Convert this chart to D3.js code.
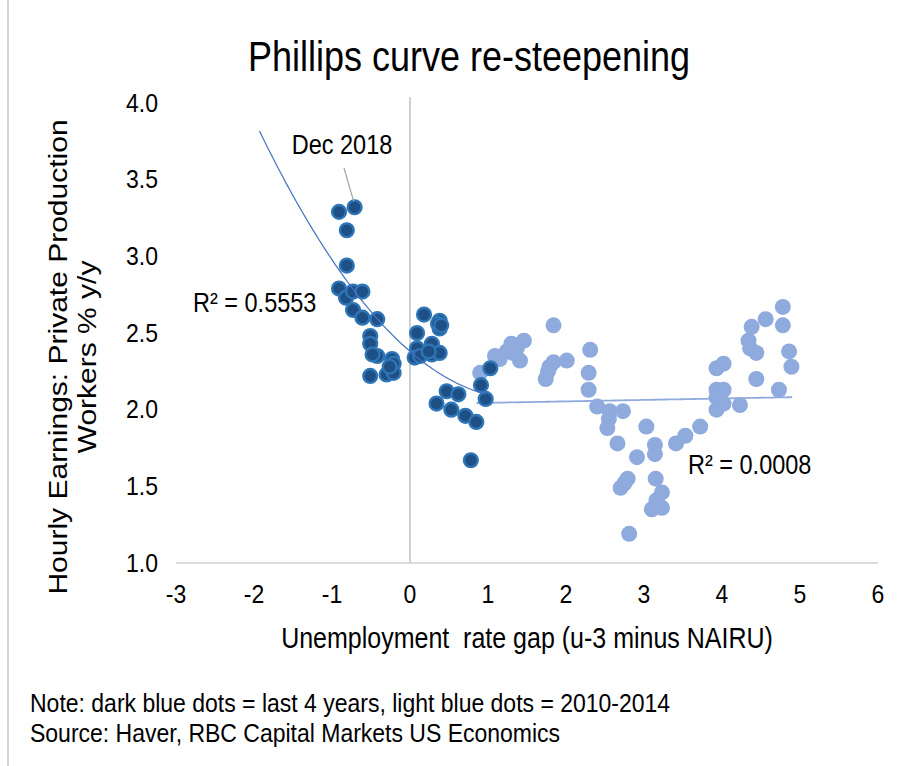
<!DOCTYPE html>
<html>
<head>
<meta charset="utf-8">
<script src="https://cdn.jsdelivr.net/npm/d3@7"></script>
<style>
  html, body { margin: 0; padding: 0; background: #ffffff; }
  svg text { font-family: "Liberation Sans", Arial, sans-serif; fill: #000; }
</style>
</head>
<body>
<script>
// Last 4 years (dark blue): unemployment gap vs hourly earnings growth
const darkX = [-0.91,-0.71,-0.81,-0.81,-0.91,-0.82,-0.73,-0.61,-0.73,-0.61,-0.42,-0.51,-0.51,-0.42,-0.23,-0.21,-0.51,-0.30,-0.21,-0.26,-0.48,
               0.18,0.09,0.09,0.06,0.38,0.38,0.28,0.28,0.38,0.13,0.36,0.40,0.24,
               0.47,0.62,0.34,0.53,0.71,0.85,0.78,0.91,0.97,1.03];
const darkY = [3.29,3.32,3.17,2.94,2.79,2.73,2.77,2.77,2.65,2.60,2.59,2.48,2.43,2.35,2.33,2.30,2.22,2.23,2.24,2.28,2.36,
               2.62,2.50,2.40,2.34,2.58,2.53,2.43,2.36,2.37,2.35,2.56,2.55,2.38,
               2.12,2.10,2.04,2.00,1.96,1.92,1.67,2.16,2.07,2.27];

// 2010-2014 (light blue)
const lightX = [0.90,1.09,1.15,1.24,1.30,1.46,1.32,1.41,1.37,1.84,1.84,1.77,1.74,1.79,2.01,2.31,2.29,2.29,2.40,2.56,
                2.73,2.55,2.53,2.66,3.03,3.14,3.14,2.91,2.79,2.70,2.75,3.15,3.23,3.10,3.23,3.16,2.81,3.41,3.53,3.72,
                3.93,4.02,3.93,3.93,4.02,3.93,4.02,3.98,4.23,4.44,4.38,4.34,4.36,4.44,4.56,4.78,4.78,4.86,4.89,4.73];
const lightY = [2.24,2.35,2.33,2.38,2.43,2.45,2.37,2.32,2.40,2.55,2.31,2.25,2.20,2.28,2.32,2.39,2.24,2.13,2.02,1.99,
                1.99,1.94,1.88,1.78,1.89,1.77,1.71,1.69,1.55,1.49,1.52,1.55,1.46,1.35,1.36,1.41,1.19,1.78,1.83,1.89,
                2.27,2.30,2.13,2.08,2.13,2.00,2.04,2.10,2.03,2.20,2.54,2.45,2.40,2.37,2.59,2.67,2.55,2.38,2.28,2.13];

// Trend lines: polynomial coefficients [c0, c1, c2] and x-range
const darkTrend = [2.38, -0.44, 0.158];
const darkTrendRange = [-1.93, 0.97];
const darkR2 = "R² = 0.5553";
const lightTrend = [2.035, 0.0095, 0];
const lightTrendRange = [0.85, 4.90];
const lightR2 = "R² = 0.0008";

// Axis ticks
const xTicks = [-3,-2,-1,0,1,2,3,4,5,6];
const yTicks = [1.0,1.5,2.0,2.5,3.0,3.5,4.0];

const annotationPoint = { label: "Dec 2018", x: -0.71, y: 3.32 };

const W = 919, H = 766;
const TALL = 1.16;   // glyphs are drawn slightly taller than their natural proportion

const svg = d3.select("body").append("svg").attr("width", W).attr("height", H);
svg.append("rect").attr("width", W).attr("height", H).attr("fill", "#fff");

// thin frame edge on the left
svg.append("line").attr("x1", 8).attr("x2", 8).attr("y1", 0).attr("y2", H)
  .attr("stroke", "#d6d6d6").attr("stroke-width", 2);

function label(parent, px, py, str, size, anchor) {
  return parent.append("text")
    .attr("transform", `translate(${px},${py}) scale(1,${TALL})`)
    .attr("text-anchor", anchor || "start")
    .style("font-size", size + "px").style("white-space", "pre")
    .text(str);
}

const x = d3.scaleLinear().domain([-3, 6]).range([176, 878]);
const y = d3.scaleLinear().domain([1, 4]).range([563, 103]);

// Title
label(svg, 469, 71, "Phillips curve re-steepening", 36, "middle");

// Horizontal axis line and vertical axis at x = 0
svg.append("line").attr("x1", x(-3)).attr("x2", x(6)).attr("y1", y(1)).attr("y2", y(1))
  .attr("stroke", "#d0d0d0").attr("stroke-width", 1.5);
svg.append("line").attr("x1", x(0)).attr("x2", x(0)).attr("y1", y(1)).attr("y2", y(4) - 6)
  .attr("stroke", "#d0d0d0").attr("stroke-width", 2);

// Tick labels
const gx = svg.append("g");
xTicks.forEach(d => label(gx, x(d), 603, String(d), 23, "middle"));
const gy = svg.append("g");
yTicks.forEach(d => label(gy, 158, y(d) + 8.5, d3.format(".1f")(d), 23, "end"));

// Axis titles
label(svg, 527, 648, "Unemployment  rate gap (u-3 minus NAIRU)", 25, "middle");
const yt = svg.append("text").attr("transform", "translate(0,357) rotate(-90) scale(1.2,1)")
  .attr("text-anchor", "middle").style("font-size", "25px");
yt.append("tspan").attr("x", 0).attr("y", 67).text("Hourly Earnings: Private Production");
yt.append("tspan").attr("x", 0).attr("y", 96).text("Workers % y/y");

// Trend curves
function trendPath(coef, range) {
  const xs = d3.range(range[0], range[1] + 1e-9, (range[1] - range[0]) / 80);
  return d3.line().x(d => x(d)).y(d => y(coef[0] + coef[1] * d + coef[2] * d * d))(xs);
}

// Light points
svg.append("g").selectAll("circle").data(d3.range(lightX.length)).join("circle")
  .attr("cx", i => x(lightX[i])).attr("cy", i => y(lightY[i])).attr("r", 8)
  .attr("fill", "#8faadc");
svg.append("path").attr("d", trendPath(lightTrend, lightTrendRange))
  .attr("fill", "none").attr("stroke", "#8faadc").attr("stroke-width", 1.8);

// Dark points
svg.append("g").selectAll("circle").data(d3.range(darkX.length)).join("circle")
  .attr("cx", i => x(darkX[i])).attr("cy", i => y(darkY[i])).attr("r", 6.9)
  .attr("fill", "#1e4f85").attr("stroke", "#2e75b6").attr("stroke-width", 2.4);
svg.append("path").attr("d", trendPath(darkTrend, darkTrendRange))
  .attr("fill", "none").attr("stroke", "#4472c4").attr("stroke-width", 1.2);

// R² labels
label(svg, 193, 312, darkR2, 23.5);
label(svg, 688, 474, lightR2, 23.5);

// Annotation for the latest observation
svg.append("line").attr("x1", 344).attr("y1", 168)
  .attr("x2", x(annotationPoint.x) - 1).attr("y2", y(annotationPoint.y) - 6)
  .attr("stroke", "#a6a6a6").attr("stroke-width", 1.2);
label(svg, 342, 154, annotationPoint.label, 23.5, "middle");

// Notes
label(svg, 30, 712, "Note: dark blue dots = last 4 years, light blue dots = 2010-2014", 23);
label(svg, 30, 742, "Source: Haver, RBC Capital Markets US Economics", 23);
</script>
</body>
</html>
